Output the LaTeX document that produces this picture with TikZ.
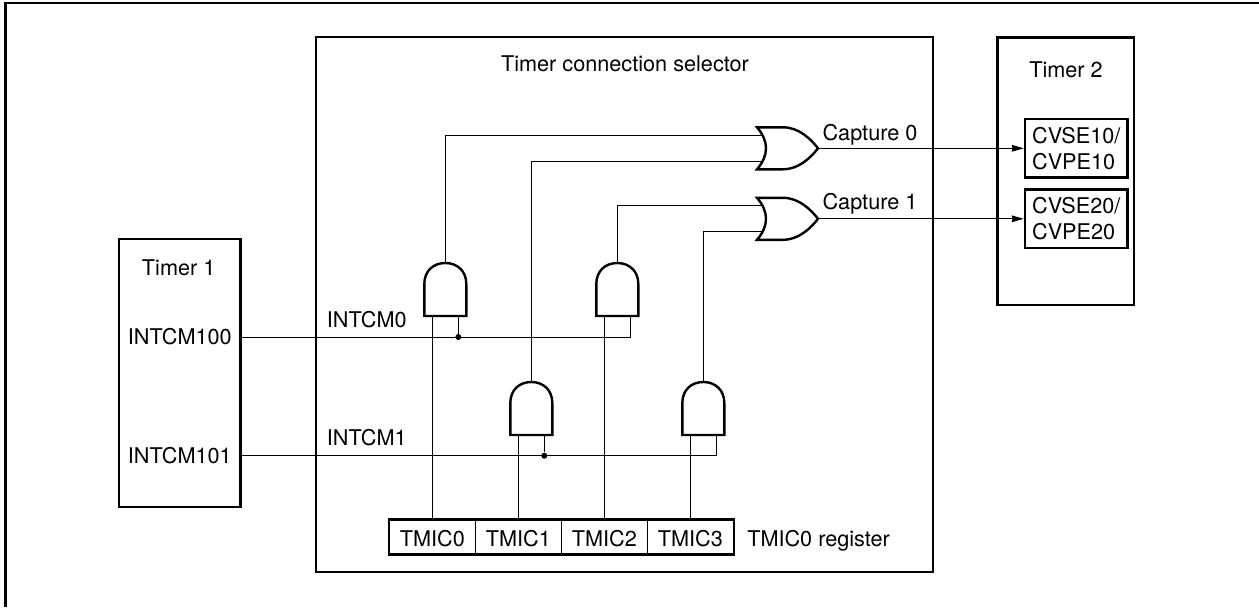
\documentclass[tikz,border=0pt]{standalone}
\usepackage{fontspec}
\setmainfont{TeX Gyre Heros}
\usetikzlibrary{arrows.meta}
\usetikzlibrary{positioning}

\tikzset{
	blockbox/.style={draw,line width=1.8pt,inner sep=0pt},
	wire/.style={line width=0.75pt},
	labeltext/.style={inner sep=0pt,font=\fontsize{16.25}{19.3}\selectfont},
	cellbox/.style={draw,line width=0.75pt,minimum width=64.5pt,minimum height=25.5pt,inner sep=0pt,text height=14.6pt,text depth=0pt},
	junction/.style={circle,fill=black,minimum size=4.5pt,inner sep=0pt},
	andgate/.pic={
		\draw[line width=1.8pt,fill=white] (-21,53) -- (-21,21)
			.. controls (-21,8) and (-12,0) .. (0,0)
			.. controls (12,0) and (21,8) .. (21,21) -- (21,53) -- cycle;
		\coordinate (-out) at (0,0);
		\coordinate (-in1) at (-13,53);
		\coordinate (-in2) at (13,53);
	},
	orgate/.pic={
		\draw[line width=1.8pt,fill=white] (0,-21) -- (26,-21)
			.. controls (42,-21) and (54,-9) .. (61,0)
			.. controls (54,9) and (42,21) .. (26,21) -- (0,21)
			.. controls (6,14) and (9,7) .. (9,0)
			.. controls (9,-7) and (6,-14) .. (0,-21) -- cycle;
		\coordinate (-out) at (61,0);
		\coordinate (-in1) at (5,-13);
		\coordinate (-in2) at (5,13);
	}
}

\begin{document}
\begin{tikzpicture}[x=0.75pt,y=-0.75pt]
	\useasboundingbox (0,0) rectangle (1259,607);

	% outer frame, open to the right and below
	\draw[line width=1.8pt] (5.5,607) -- (5.5,3) -- (1259,3);

	% blocks
	\node (timerone) [blockbox,minimum width=91.3pt,minimum height=201pt] at (179.8,372.7) {};
	\node (selector) [blockbox,minimum width=462.7pt,minimum height=401pt] at (624.6,304.4) {};
	\node (timertwo) [blockbox,minimum width=102.5pt,minimum height=200.8pt] at (1065.7,171.2) {};

	\node (cvsea) [blockbox,minimum width=77pt,minimum height=44pt,align=left,labeltext] at (1076.3,148.3) {CVSE10/\\CVPE10};
	\node (cvseb) [blockbox,minimum width=77pt,minimum height=44pt,align=left,labeltext] at (1076.3,218.8) {CVSE20/\\CVPE20};

	% register
	\node (cellzero) [cellbox,labeltext] at (432.3,537) {TMIC0};
	\node (cellone) [cellbox,labeltext,right=-0.75pt of cellzero] {TMIC1};
	\node (celltwo) [cellbox,labeltext,right=-0.75pt of cellone] {TMIC2};
	\node (cellthree) [cellbox,labeltext,right=-0.75pt of celltwo] {TMIC3};
	\draw[line width=1.8pt] (cellzero.north west) rectangle (cellthree.south east);

	% gates
	\pic (anda) at (445.3,263) {andgate};
	\pic (andb) at (617.3,263) {andgate};
	\pic (andc) at (531.3,382) {andgate};
	\pic (andd) at (703.3,382) {andgate};
	\pic (ora) at (757,148.3) {orgate};
	\pic (orb) at (757,218.8) {orgate};

	% labels
	\node (titleone) [labeltext] at (178.7,268) {Timer 1};
	\node (portzero) [labeltext,anchor=west] at (127.7,337) {INTCM100};
	\node (portone) [labeltext,anchor=west] at (127.7,455.7) {INTCM101};
	\node (titlesel) [labeltext] at (625,64) {Timer connection selector};
	\node (titletwo) [labeltext] at (1066,69.3) {Timer 2};
	\node (sigzero) [labeltext,anchor=west] at (326.7,320) {INTCM0};
	\node (sigone) [labeltext,anchor=west] at (326.7,438) {INTCM1};
	\node (capzero) [labeltext,anchor=base west] at (822.3,140.3) {Capture 0};
	\node (capone) [labeltext,anchor=base west] at (822.3,209.3) {Capture 1};
	\node (regname) [labeltext,anchor=base west] at (747,546.7) {TMIC0 register};

	% inputs from timer 1
	\coordinate (srczero) at (timerone.east |- portzero);
	\coordinate (srcone) at (timerone.east |- portone);
	\node (dotzero) [junction] at (anda-in2 |- srczero) {};
	\node (dotone) [junction] at (andc-in2 |- srcone) {};
	\draw[wire] (srczero) -| (andb-in2);
	\draw[wire] (srcone) -| (andd-in2);
	\draw[wire] (anda-in2) -- (dotzero);
	\draw[wire] (andc-in2) -- (dotone);

	% register bits
	\draw[wire] (anda-in1) -- (anda-in1 |- cellzero.north);
	\draw[wire] (andc-in1) -- (andc-in1 |- cellone.north);
	\draw[wire] (andb-in1) -- (andb-in1 |- celltwo.north);
	\draw[wire] (andd-in1) -- (andd-in1 |- cellthree.north);

	% to the or gates
	\draw[wire] (anda-out) |- (ora-in1);
	\draw[wire] (andc-out) |- (ora-in2);
	\draw[wire] (andb-out) |- (orb-in1);
	\draw[wire] (andd-out) |- (orb-in2);

	\draw[wire,-{Stealth[length=9pt,width=5pt,inset=0.5pt]}] (ora-out) -- (ora-out -| cvsea.west);
	\draw[wire,-{Stealth[length=9pt,width=5pt,inset=0.5pt]}] (orb-out) -- (orb-out -| cvseb.west);
\end{tikzpicture}
\end{document}
